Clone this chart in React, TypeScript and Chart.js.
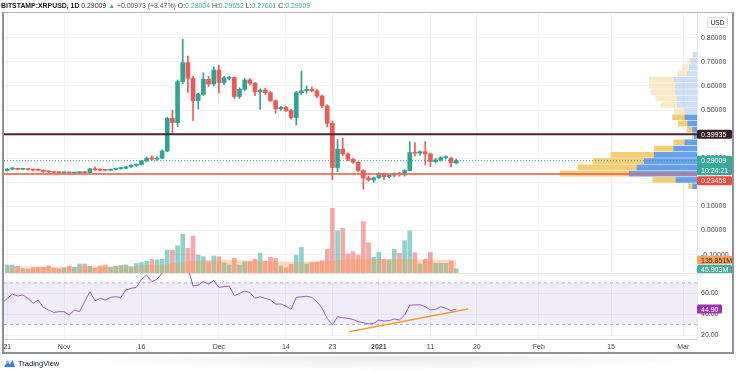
import React, { useEffect, useRef } from 'react';
import { Chart, registerables } from 'chart.js';

Chart.register(...registerables);

const FAMILY = '"Liberation Sans", "DejaVu Sans", Arial, sans-serif';

// ---------- text ----------
const symbolTitle = 'BITSTAMP:XRPUSD, 1D';
const countdown = '10:24:21';
const currencyLabel = 'USD';

// ---------- x axis (day index 0 = Oct 21, 2020) ----------
const xTickDays = [0, 11, 26, 41, 54, 63, 72, 82, 91, 103, 117, 131];
const xTickLabels = ['21', 'Nov', '16', 'Dec', '14', '23', '2021', '11', '20', 'Feb', '15', 'Mar'];

// ---------- daily candles ----------
const opens = [
  0.249, 0.255, 0.257, 0.254, 0.255, 0.253, 0.251, 0.250, 0.245, 0.243,
  0.241, 0.240, 0.241, 0.239, 0.240, 0.241, 0.240, 0.256, 0.252, 0.251,
  0.250, 0.254, 0.257, 0.258, 0.264, 0.271, 0.274, 0.289, 0.302, 0.296,
  0.300, 0.330, 0.466, 0.448, 0.618, 0.697, 0.632, 0.539, 0.565, 0.628,
  0.608, 0.666, 0.614, 0.632, 0.635, 0.556, 0.586, 0.625, 0.611, 0.575,
  0.583, 0.572, 0.539, 0.505, 0.511, 0.498, 0.469, 0.572, 0.580, 0.586,
  0.580, 0.558, 0.517, 0.445, 0.261, 0.338, 0.318, 0.296, 0.283, 0.249,
  0.218, 0.210, 0.219, 0.237, 0.224, 0.230, 0.236, 0.231, 0.249, 0.324,
  0.321, 0.327, 0.318, 0.286, 0.293, 0.303, 0.300, 0.28004,
];
const highs = [
  0.258, 0.262, 0.259, 0.258, 0.257, 0.255, 0.256, 0.252, 0.248, 0.246,
  0.244, 0.243, 0.243, 0.242, 0.244, 0.246, 0.258, 0.264, 0.256, 0.254,
  0.256, 0.259, 0.260, 0.266, 0.273, 0.276, 0.291, 0.305, 0.310, 0.306,
  0.335, 0.470, 0.500, 0.625, 0.7935, 0.724, 0.640, 0.570, 0.655, 0.640,
  0.680, 0.687, 0.640, 0.640, 0.638, 0.592, 0.632, 0.632, 0.615, 0.588,
  0.590, 0.578, 0.541, 0.515, 0.515, 0.503, 0.578, 0.662, 0.600, 0.596,
  0.585, 0.562, 0.522, 0.455, 0.378, 0.382, 0.322, 0.300, 0.286, 0.252,
  0.226, 0.222, 0.240, 0.238, 0.235, 0.240, 0.242, 0.252, 0.369, 0.365,
  0.331, 0.369, 0.322, 0.300, 0.306, 0.310, 0.305, 0.29652,
];
const lows = [
  0.246, 0.252, 0.251, 0.252, 0.250, 0.247, 0.248, 0.241, 0.239, 0.238,
  0.237, 0.237, 0.235, 0.234, 0.236, 0.238, 0.239, 0.249, 0.248, 0.247,
  0.249, 0.252, 0.254, 0.256, 0.262, 0.266, 0.271, 0.286, 0.292, 0.290,
  0.298, 0.326, 0.403, 0.431, 0.610, 0.573, 0.456, 0.504, 0.560, 0.598,
  0.600, 0.570, 0.605, 0.625, 0.548, 0.548, 0.580, 0.604, 0.560, 0.503,
  0.565, 0.535, 0.487, 0.498, 0.494, 0.462, 0.438, 0.565, 0.570, 0.575,
  0.550, 0.510, 0.430, 0.211, 0.244, 0.310, 0.290, 0.279, 0.245, 0.171,
  0.205, 0.200, 0.216, 0.212, 0.218, 0.222, 0.225, 0.226, 0.247, 0.310,
  0.312, 0.272, 0.265, 0.280, 0.288, 0.296, 0.265, 0.27601,
];
const closes = [
  0.255, 0.257, 0.254, 0.255, 0.253, 0.251, 0.250, 0.245, 0.243, 0.241,
  0.240, 0.241, 0.239, 0.240, 0.241, 0.240, 0.256, 0.252, 0.251, 0.250,
  0.254, 0.257, 0.258, 0.264, 0.271, 0.274, 0.289, 0.300, 0.296, 0.300,
  0.330, 0.466, 0.448, 0.618, 0.697, 0.632, 0.539, 0.565, 0.628, 0.608,
  0.666, 0.614, 0.634, 0.635, 0.556, 0.586, 0.625, 0.611, 0.575, 0.583,
  0.572, 0.539, 0.505, 0.511, 0.498, 0.469, 0.572, 0.580, 0.586, 0.580,
  0.558, 0.517, 0.445, 0.261, 0.338, 0.318, 0.296, 0.283, 0.249, 0.218,
  0.210, 0.219, 0.237, 0.223, 0.230, 0.236, 0.231, 0.249, 0.324, 0.321,
  0.327, 0.318, 0.286, 0.293, 0.303, 0.305, 0.28036, 0.29009,
];

// ---------- volume (millions) and its moving average ----------
const volumes = [
  84, 84, 70, 45, 40, 55, 60, 62, 75, 50,
  45, 55, 70, 60, 95, 95, 70, 50, 75, 85,
  60, 70, 80, 85, 65, 100, 110, 126, 144, 137,
  144, 242, 242, 288, 407, 260, 389, 189, 172, 119,
  179, 172, 109, 84, 154, 84, 119, 119, 144, 207,
  126, 165, 154, 74, 56, 91, 189, 270, 95, 110,
  115, 130, 249, 681, 445, 470, 200, 225, 189, 540,
  319, 165, 217, 144, 137, 249, 207, 340, 445, 214,
  95, 144, 217, 102, 102, 102, 126, 45.903,
];
const volumeMA = [
  70, 70, 70, 68, 68, 68, 67, 67, 67, 67,
  66, 66, 66, 67, 68, 70, 70, 70, 71, 72,
  72, 73, 74, 75, 76, 78, 80, 84, 88, 92,
  90, 95, 100, 108, 115, 122, 128, 132, 135, 137,
  138, 138, 138, 137, 136, 135, 134, 132, 130, 128,
  126, 124, 122, 120, 118, 116, 116, 117, 118, 120,
  122, 124, 126, 132, 137, 140, 142, 143, 144, 145,
  146, 146, 146, 145, 145, 144, 144, 144, 144, 144,
  143, 142, 141, 140, 139, 138, 137, 135.851,
];

// ---------- RSI (first value is the day before index 0) ----------
const rsiStartDay = -1;
const rsiValues = [
  50.4, 55.2, 59.3, 57.4, 58.4, 55.2, 50.4, 53.6, 46.5, 44.0,
  41.7, 42.4, 42.4, 39.2, 44.0, 42.4, 52.0, 61.6, 52.9, 55.2,
  53.6, 56.1, 56.7, 56.1, 63.2, 64.8, 65.7, 73.4, 77.6, 71.2,
  73.4, 79.5, 88.0, 86.0, 90.0, 93.0, 85.0, 67.0, 68.0, 71.2,
  69.0, 72.1, 65.7, 66.4, 67.0, 57.7, 59.9, 62.2, 60.9, 55.2,
  56.7, 55.2, 53.6, 49.7, 49.7, 47.8, 44.6, 56.1, 56.7, 57.2,
  56.1, 52.0, 45.6, 36.0, 29.6, 37.6, 36.6, 36.0, 35.0, 32.8,
  31.8, 30.5, 31.2, 34.4, 33.4, 33.8, 35.4, 34.4, 39.2, 48.8,
  48.8, 49.1, 47.2, 44.0, 44.6, 47.2, 45.6, 43.3, 44.9,
];
const rsiUpper = 70;
const rsiLower = 30;
const rsiTrendDays = [66.2, 89.3];
const rsiTrendValues = [23.2, 44.9];

// ---------- horizontal levels ----------
const resistanceLevel = 0.39935;
const supportLevel = 0.23458;

// ---------- volume profile (rows from bottom) ----------
const profileLow = 0.171;
const profileStep = 0.026;
const profileUp = [43, 210, 677, 600, 527, 427, 233, 120, 27, 43, 93, 120, 120, 193, 193, 210, 210, 227, 93, 77, 60, 33];
const profileDown = [43, 233, 693, 587, 507, 433, 193, 113, 17, 57, 93, 123, 107, 167, 217, 250, 267, 250, 100, 67, 33, 10];
const valueAreaRows = 12; // rows 0..11 inside the value area

// ---------- axis ticks ----------
const priceTicks = [-0.1, 0, 0.1, 0.2, 0.3, 0.4, 0.5, 0.6, 0.7, 0.8];
const rsiTicks = [20, 40, 60];

// ---------- scale ranges ----------
const X_MIN = -0.64;
const X_MAX = 133.66;
const P_MIN = -0.1764;
const P_MAX = 0.9029;
const V_MAX = 2737;
const PROFILE_MAX = 6930;
const R_MIN = 16.2;
const R_MAX = 79.5;

const UP = '#2ea594';
const DOWN = '#ec5b55';
const AXIS_TEXT = '#434651';
const GRID = '#f0f3fa';

const days = closes.map((_, i) => i);
const isUp = days.map((i) => closes[i] >= opens[i]);
const last = closes.length - 1;

function drawBox(ctx: CanvasRenderingContext2D, x0: number, x1: number, top: number, h: number, bg: string, lines: string[], fg: string) {
  ctx.fillStyle = bg;
  ctx.beginPath();
  (ctx as any).roundRect ? (ctx as any).roundRect(x0, top, x1 - x0, h, 1.5) : ctx.rect(x0, top, x1 - x0, h);
  ctx.fill();
  ctx.fillStyle = fg;
  ctx.textBaseline = 'middle';
  ctx.textAlign = 'left';
  const lh = h / lines.length;
  lines.forEach((t, k) => ctx.fillText(t, x0 + 4, top + lh * (k + 0.5) + 0.5));
}

const mainLabelsPlugin = {
  id: 'mainLabels',
  afterDraw(chart: any) {
    const { ctx, chartArea, scales } = chart;
    const py = scales.y;
    const vy = scales.yv;
    const L = chartArea.right;
    const R = 732;
    ctx.save();
    ctx.font = `7px ${FAMILY}`;
    const rc = py.getPixelForValue(resistanceLevel);
    drawBox(ctx, L, R, rc - 4.5, 9, '#3b1d2a', [resistanceLevel.toFixed(5)], '#ffffff');
    const cc = py.getPixelForValue(closes[last]);
    const cTop = cc - 4.75;
    drawBox(ctx, L, R, cTop, 19.5, '#3aa99a', [closes[last].toFixed(5), countdown], '#ffffff');
    const sc = py.getPixelForValue(supportLevel);
    const sTop = Math.max(sc - 4.5, cTop + 19.5 + 1);
    drawBox(ctx, L, R, sTop, 9, '#f04a3c', [supportLevel.toFixed(5)], '#ffffff');
    const mc = vy.getPixelForValue(volumeMA[last]);
    const mTop = mc - 4.5;
    drawBox(ctx, L, R, mTop, 9, '#f5a25c', [volumeMA[last].toFixed(3) + 'M'], '#2a2a2a');
    const vc = vy.getPixelForValue(volumes[last]);
    const vTop = Math.max(vc - 4.5, mTop + 9 + 0.5);
    drawBox(ctx, L, R, vTop, 9, '#45ad9f', [volumes[last].toFixed(3) + 'M'], '#ffffff');
    ctx.strokeStyle = '#d6d8de';
    ctx.lineWidth = 1;
    ctx.beginPath();
    (ctx as any).roundRect ? (ctx as any).roundRect(707.5, 17.5, 20, 10, 2) : ctx.rect(707.5, 17.5, 20, 10);
    ctx.stroke();
    ctx.fillStyle = '#131722';
    ctx.textAlign = 'center';
    ctx.textBaseline = 'middle';
    ctx.font = `6.5px ${FAMILY}`;
    ctx.fillText(currencyLabel, 717.5, 23);
    ctx.restore();
  },
};

const rsiLabelsPlugin = {
  id: 'rsiLabels',
  beforeDraw(chart: any) {
    const { ctx, chartArea } = chart;
    ctx.save();
    ctx.strokeStyle = '#e3e5ea';
    ctx.lineWidth = 1;
    ctx.beginPath();
    ctx.moveTo(chartArea.left, 0.5);
    ctx.lineTo(733, 0.5);
    ctx.stroke();
    ctx.restore();
  },
  afterDraw(chart: any) {
    const { ctx, chartArea, scales } = chart;
    const ry = scales.y;
    ctx.save();
    ctx.font = `7px ${FAMILY}`;
    const v = rsiValues[rsiValues.length - 1];
    const c = ry.getPixelForValue(v);
    drawBox(ctx, chartArea.right, 722, c - 4.5, 9, '#9b33b4', [v.toFixed(2)], '#ffffff');
    ctx.restore();
  },
};

export default function App() {
  const mainRef = useRef<HTMLCanvasElement>(null);
  const rsiRef = useRef<HTMLCanvasElement>(null);

  useEffect(() => {
    const font = { family: FAMILY, size: 7 };
    const candleColors = isUp.map((u) => (u ? UP : DOWN));
    const volColors = isUp.map((u) => (u ? 'rgba(38,166,154,0.5)' : 'rgba(239,83,80,0.5)'));
    const rowCenters = profileUp.map((_, i) => profileLow + profileStep * (i + 0.5));
    const upColors = profileUp.map((_, i) => (i < valueAreaRows ? 'rgba(76,145,232,0.85)' : 'rgba(160,196,238,0.55)'));
    const downColors = profileUp.map((_, i) => (i < valueAreaRows ? 'rgba(242,196,92,0.85)' : 'rgba(247,214,140,0.5)'));

    const main = new Chart(mainRef.current!, {
      type: 'bar',
      data: {
        datasets: [
          {
            type: 'line',
            data: [{ x: X_MIN, y: resistanceLevel }, { x: X_MAX, y: resistanceLevel }],
            borderColor: '#4a2536',
            borderWidth: 2,
            pointRadius: 0,
            order: 0,
            xAxisID: 'x',
            yAxisID: 'y',
          } as any,
          {
            type: 'line',
            data: [{ x: X_MIN, y: supportLevel }, { x: X_MAX, y: supportLevel }],
            borderColor: 'rgba(236,104,88,0.85)',
            borderWidth: 2,
            pointRadius: 0,
            order: 0,
            xAxisID: 'x',
            yAxisID: 'y',
          } as any,
          {
            type: 'line',
            data: [{ x: X_MIN, y: closes[last] }, { x: X_MAX, y: closes[last] }],
            borderColor: UP,
            borderWidth: 1,
            borderDash: [1, 2],
            pointRadius: 0,
            order: 0,
            xAxisID: 'x',
            yAxisID: 'y',
          } as any,
          {
            type: 'bar',
            data: days.map((i) => ({ x: i, y: [opens[i], closes[i]] })),
            backgroundColor: candleColors,
            barThickness: 4,
            minBarLength: 1,
            grouped: false,
            borderWidth: 0,
            order: 1,
            xAxisID: 'x',
            yAxisID: 'y',
          } as any,
          {
            type: 'bar',
            data: days.map((i) => ({ x: i, y: [lows[i], highs[i]] })),
            backgroundColor: candleColors,
            barThickness: 1,
            grouped: false,
            borderWidth: 0,
            order: 2,
            xAxisID: 'x',
            yAxisID: 'y',
          } as any,
          {
            type: 'bar',
            indexAxis: 'y',
            data: rowCenters.map((c, i) => ({ y: c, x: [0, profileUp[i]] })),
            backgroundColor: upColors,
            barThickness: 5,
            grouped: false,
            borderWidth: 0,
            order: 3,
            xAxisID: 'xp',
            yAxisID: 'y',
          } as any,
          {
            type: 'bar',
            indexAxis: 'y',
            data: rowCenters.map((c, i) => ({ y: c, x: [profileUp[i], profileUp[i] + profileDown[i]] })),
            backgroundColor: downColors,
            barThickness: 5,
            grouped: false,
            borderWidth: 0,
            order: 3,
            xAxisID: 'xp',
            yAxisID: 'y',
          } as any,
          {
            type: 'line',
            data: days.map((i) => ({ x: i, y: volumeMA[i] })),
            borderWidth: 0,
            borderColor: 'rgba(0,0,0,0)',
            backgroundColor: 'rgba(245,150,60,0.33)',
            fill: 'origin',
            pointRadius: 0,
            order: 4,
            xAxisID: 'x',
            yAxisID: 'yv',
          } as any,
          {
            type: 'bar',
            data: days.map((i) => ({ x: i, y: volumes[i] })),
            backgroundColor: volColors,
            barThickness: 4,
            grouped: false,
            borderWidth: 0,
            order: 5,
            xAxisID: 'x',
            yAxisID: 'yv',
          } as any,
        ],
      },
      options: {
        animation: false,
        responsive: false,
        events: [],
        layout: { padding: { left: 4, top: 13, right: 0, bottom: 0 } },
        plugins: { legend: { display: false }, tooltip: { enabled: false } },
        scales: {
          x: {
            type: 'linear',
            min: X_MIN,
            max: X_MAX,
            offset: false,
            afterBuildTicks: (s: any) => { s.ticks = xTickDays.map((v) => ({ value: v })); },
            afterFit: (s: any) => { s.height = 0; s.paddingLeft = 0; s.paddingRight = 0; },
            ticks: { display: false },
            grid: { color: GRID, drawTicks: false, offset: false },
            border: { display: false },
          },
          y: {
            type: 'linear',
            position: 'right',
            min: P_MIN,
            max: P_MAX,
            offset: false,
            afterBuildTicks: (s: any) => { s.ticks = priceTicks.map((v) => ({ value: v })); },
            afterFit: (s: any) => { s.width = 39; s.paddingTop = 0; s.paddingBottom = 0; },
            ticks: { font, color: AXIS_TEXT, padding: 4, callback: (v: any) => Number(v).toFixed(5) },
            grid: { color: GRID, drawTicks: false, offset: false },
            border: { color: '#e6e8ee' },
          },
          yv: {
            type: 'linear',
            axis: 'y',
            display: false,
            offset: false,
            min: 0,
            max: V_MAX,
          },
          xp: {
            type: 'linear',
            axis: 'x',
            display: false,
            reverse: true,
            offset: false,
            min: 0,
            max: PROFILE_MAX,
          },
        } as any,
      },
      plugins: [mainLabelsPlugin],
    } as any);

    const rsi = new Chart(rsiRef.current!, {
      type: 'line',
      data: {
        datasets: [
          {
            data: rsiTrendDays.map((d, k) => ({ x: d, y: rsiTrendValues[k] })),
            borderColor: '#f5a02e',
            borderWidth: 1.5,
            pointRadius: 0,
            order: 0,
          },
          {
            data: rsiValues.map((v, k) => ({ x: rsiStartDay + k, y: v })),
            borderColor: '#8c5fc8',
            borderWidth: 1,
            pointRadius: 0,
            order: 1,
          },
          {
            data: [{ x: X_MIN, y: rsiUpper }, { x: X_MAX, y: rsiUpper }],
            borderColor: '#b7b1c4',
            borderWidth: 1,
            borderDash: [3, 3],
            pointRadius: 0,
            fill: '+1',
            backgroundColor: 'rgba(126,87,194,0.11)',
            order: 2,
          },
          {
            data: [{ x: X_MIN, y: rsiLower }, { x: X_MAX, y: rsiLower }],
            borderColor: '#b7b1c4',
            borderWidth: 1,
            borderDash: [3, 3],
            pointRadius: 0,
            fill: false,
            order: 2,
          },
        ] as any,
      },
      options: {
        animation: false,
        responsive: false,
        events: [],
        layout: { padding: { left: 4, top: 0, right: 0, bottom: 18 } },
        plugins: { legend: { display: false }, tooltip: { enabled: false } },
        scales: {
          x: {
            type: 'linear',
            min: X_MIN,
            max: X_MAX,
            offset: false,
            afterBuildTicks: (s: any) => { s.ticks = xTickDays.map((v) => ({ value: v })); },
            afterFit: (s: any) => { s.height = 14; s.paddingLeft = 0; s.paddingRight = 0; },
            ticks: {
              autoSkip: false,
              maxRotation: 0,
              padding: 4,
              color: AXIS_TEXT,
              font: (ctx: any) => ({ family: FAMILY, size: 7, weight: ctx.tick && ctx.tick.label === '2021' ? 'bold' : 'normal' }),
              callback: (v: any) => xTickLabels[xTickDays.indexOf(Number(v))],
            },
            grid: { color: GRID, drawTicks: false, offset: false },
            border: { color: '#d1d4dc' },
          },
          y: {
            type: 'linear',
            position: 'right',
            min: R_MIN,
            max: R_MAX,
            offset: false,
            afterBuildTicks: (s: any) => { s.ticks = rsiTicks.map((v) => ({ value: v })); },
            afterFit: (s: any) => { s.width = 39; s.paddingTop = 0; s.paddingBottom = 0; },
            ticks: { font, color: AXIS_TEXT, padding: 4, callback: (v: any) => Number(v).toFixed(2) },
            grid: { color: GRID, drawTicks: false },
            border: { color: '#e6e8ee' },
          },
        } as any,
      },
      plugins: [rsiLabelsPlugin],
    } as any);

    return () => {
      main.destroy();
      rsi.destroy();
    };
  }, []);

  const lastClose = closes[last];
  const prevClose = closes[last - 1];
  const change = lastClose - prevClose;
  const pct = (change / prevClose) * 100;
  const teal = { color: '#3fae9f' };

  return (
    <div style={{ position: 'fixed', left: 0, top: 0, width: 736, height: 371, background: '#ffffff', overflow: 'hidden', fontFamily: FAMILY }}>
      <div style={{ position: 'absolute', left: 1, top: 0, height: 11, lineHeight: '11px', fontSize: 6.9, whiteSpace: 'nowrap', color: '#2a2e39', zIndex: 3 }}>
        <b style={{ color: '#131722' }}>{symbolTitle}</b>{' '}
        <span>{lastClose.toFixed(5)}</span>{' '}
        <span style={teal}>▲</span>{' '}
        <span style={{ color: '#50535e' }}>{`+${change.toFixed(5)} (+${pct.toFixed(2)}%)`}</span>{' '}
        O:<span style={teal}>{opens[last].toFixed(5)}</span>{' '}
        H:<span style={teal}>{highs[last].toFixed(5)}</span>{' '}
        L:<span style={teal}>{lows[last].toFixed(5)}</span>{' '}
        C:<span style={teal}>{lastClose.toFixed(5)}</span>
      </div>
      <canvas ref={mainRef} width={736} height={273} style={{ position: 'absolute', left: 0, top: 0, width: 736, height: 273 }} />
      <canvas ref={rsiRef} width={736} height={98} style={{ position: 'absolute', left: 0, top: 273, width: 736, height: 98 }} />
      <div style={{ position: 'absolute', left: 2, top: 12, width: 732, height: 342, boxSizing: 'border-box', borderLeft: '2px solid #8e919a', borderRight: '2px solid #8e919a', borderBottom: '2px solid #8e919a', borderTop: '1px solid #b4b7bf', pointerEvents: 'none', zIndex: 2 }} />
      <div style={{ position: 'absolute', left: 60, top: 356, width: 660, height: 15, background: 'radial-gradient(ellipse at 50% 0%, rgba(0,0,0,0.09), rgba(0,0,0,0) 70%)' }} />
      <div style={{ position: 'absolute', left: 3, top: 358, height: 11, display: 'flex', alignItems: 'center', gap: 2, fontSize: 7.5, color: '#131722', whiteSpace: 'nowrap' }}>
        <svg width="13" height="9" viewBox="0 0 13 9">
          <path d="M1 8 L4.5 2.5 L7 5.5 L9.5 1 L12 8 Z" fill="#2f7cf6" />
          <circle cx="4.5" cy="3" r="1.6" fill="#7db3fb" />
        </svg>
        <span>TradingView</span>
      </div>
    </div>
  );
}
